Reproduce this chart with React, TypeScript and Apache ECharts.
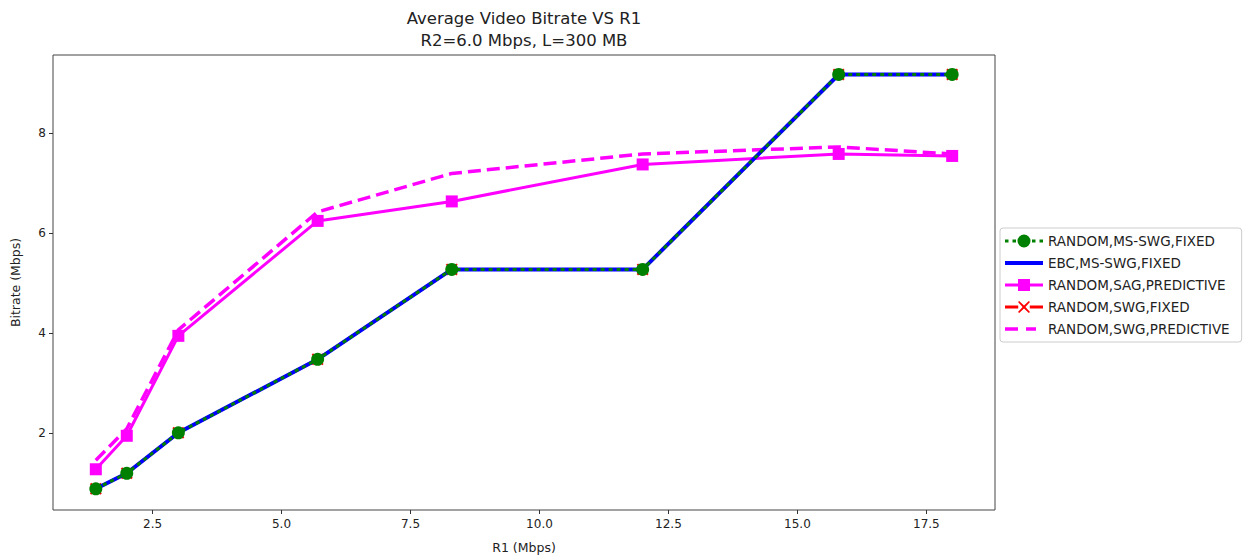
import React, { useEffect, useRef } from "react";
import * as echarts from "echarts";

// R1 link rates (Mbps) shared by every configuration
const r1Values = [1.4, 2.0, 3.0, 5.7, 8.3, 12.0, 15.8, 18.0];

// Average video bitrate (Mbps) per configuration
const randomMsSwgFixed = [0.88, 1.19, 2.0, 3.47, 5.27, 5.27, 9.17, 9.17];
const ebcMsSwgFixed = [0.88, 1.19, 2.0, 3.47, 5.27, 5.27, 9.17, 9.17];
const randomSagPredictive = [1.27, 1.94, 3.94, 6.24, 6.63, 7.37, 7.58, 7.54];
const randomSwgFixed = [0.88, 1.19, 2.0, 3.47, 5.27, 5.27, 9.17, 9.17];
const randomSwgPredictive = [1.45, 2.08, 4.06, 6.42, 7.19, 7.58, 7.72, 7.58];

const xTicks = [2.5, 5.0, 7.5, 10.0, 12.5, 15.0, 17.5];
const yTicks = [2, 4, 6, 8];

const titleLines = ["Average Video Bitrate VS R1", "R2=6.0 Mbps, L=300 MB"];

const FONT = "DejaVu Sans";
const CROSS =
  "path://M0,1.2L1.2,0L5,3.8L8.8,0L10,1.2L6.2,5L10,8.8L8.8,10L5,6.2L1.2,10L0,8.8L3.8,5Z";

// Legend glyphs in a 38x14 box; the zero-length corner moves keep the box size fixed
const BOX = "M0,0L0,0ZM38,14L38,14Z";
const rect = (x0: number, x1: number, y0: number, y1: number) =>
  `M${x0},${y0}L${x1},${y0}L${x1},${y1}L${x0},${y1}Z`;
const ICON_GREEN =
  "path://" +
  BOX +
  rect(0, 3.5, 5.5, 8.5) +
  rect(7.5, 11, 5.5, 8.5) +
  rect(27, 30.5, 5.5, 8.5) +
  rect(34.5, 38, 5.5, 8.5) +
  "M12.5,7A6.5,6.5 0 1 1 25.5,7A6.5,6.5 0 1 1 12.5,7Z";
const ICON_BLUE = "path://" + BOX + rect(0, 38, 5, 9);
const ICON_SQUARE =
  "path://" + BOX + rect(0, 13, 5.5, 8.5) + rect(13, 25, 1, 13) + rect(25, 38, 5.5, 8.5);
const ICON_CROSS =
  "path://" +
  BOX +
  rect(0, 13.2, 5.5, 8.5) +
  rect(24.8, 38, 5.5, 8.5) +
  "M13,2L14.2,1L19,5.6L23.8,1L25,2L20.4,7L25,12L23.8,13L19,8.4L14.2,13L13,12L17.6,7Z";
const ICON_DASH = "path://" + BOX + rect(0, 13, 5.2, 8.8) + rect(21, 31, 5.2, 8.8);

const pairs = (ys: number[]) => r1Values.map((x, i) => [x, ys[i]]);

export default function App() {
  const ref = useRef<HTMLDivElement>(null);

  useEffect(() => {
    if (!ref.current) return;
    const chart = echarts.init(ref.current, undefined, { renderer: "svg" });

    const gridLeft = 53;
    const gridRight = 248;
    const plotCenter = gridLeft + (1243 - gridLeft - gridRight) / 2;

    chart.setOption({
      animation: false,
      backgroundColor: "#fff",
      textStyle: { fontFamily: FONT },
      graphic: titleLines.map((t, i) => ({
        type: "text",
        x: plotCenter,
        y: 18 + i * 22,
        style: {
          text: t,
          fill: "#222",
          font: `16.5px "${FONT}"`,
          textAlign: "center",
          textVerticalAlign: "middle",
        },
      })),
      grid: {
        left: gridLeft,
        right: gridRight,
        top: 55,
        bottom: 44,
        show: true,
        borderColor: "#444",
        borderWidth: 1,
        backgroundColor: "transparent",
      },
      legend: {
        orient: "vertical",
        left: 1000,
        top: 228,
        itemWidth: 38,
        itemHeight: 14,
        itemGap: 8,
        padding: [6, 12, 6, 5],
        borderColor: "#ccc",
        borderWidth: 1,
        borderRadius: 3,
        textStyle: { fontFamily: FONT, fontSize: 13.5, color: "#222" },
        data: [
          { name: "RANDOM,MS-SWG,FIXED", icon: ICON_GREEN },
          { name: "EBC,MS-SWG,FIXED", icon: ICON_BLUE },
          { name: "RANDOM,SAG,PREDICTIVE", icon: ICON_SQUARE },
          { name: "RANDOM,SWG,FIXED", icon: ICON_CROSS },
          { name: "RANDOM,SWG,PREDICTIVE", icon: ICON_DASH },
        ],
      },
      xAxis: {
        type: "value",
        min: 0.57,
        max: 18.83,
        name: "R1 (Mbps)",
        nameLocation: "middle",
        nameGap: 31,
        nameTextStyle: { fontFamily: FONT, fontSize: 12.5, color: "#222" },
        axisLine: { show: false },
        splitLine: { show: false },
        axisTick: {
          show: true,
          length: 4,
          customValues: xTicks,
          lineStyle: { color: "#333" },
        },
        axisLabel: {
          customValues: xTicks,
          margin: 8,
          fontFamily: FONT,
          fontSize: 12,
          color: "#222",
          formatter: (v: number) => v.toFixed(1),
        },
      },
      yAxis: {
        type: "value",
        min: 0.455,
        max: 9.56,
        name: "Bitrate (Mbps)",
        nameLocation: "middle",
        nameGap: 31,
        nameTextStyle: { fontFamily: FONT, fontSize: 12.5, color: "#222" },
        axisLine: { show: false },
        splitLine: { show: false },
        axisTick: {
          show: true,
          length: 4,
          customValues: yTicks,
          lineStyle: { color: "#333" },
        },
        axisLabel: {
          customValues: yTicks,
          margin: 7,
          fontFamily: FONT,
          fontSize: 12,
          color: "#222",
          formatter: (v: number) => String(Math.round(v)),
        },
      },
      series: [
        {
          name: "RANDOM,MS-SWG,FIXED",
          type: "line",
          z: 5,
          data: pairs(randomMsSwgFixed),
          symbol: "circle",
          symbolSize: 13,
          itemStyle: { color: "#008000" },
          lineStyle: { color: "#008000", width: 3, type: [4, 4] },
        },
        {
          name: "EBC,MS-SWG,FIXED",
          type: "line",
          z: 4,
          data: pairs(ebcMsSwgFixed),
          symbol: "none",
          showSymbol: false,
          itemStyle: { color: "#0000ff" },
          lineStyle: { color: "#0000ff", width: 4 },
        },
        {
          name: "RANDOM,SAG,PREDICTIVE",
          type: "line",
          z: 3,
          data: pairs(randomSagPredictive),
          symbol: "rect",
          symbolSize: 12,
          itemStyle: { color: "#ff00ff" },
          lineStyle: { color: "#ff00ff", width: 3 },
        },
        {
          name: "RANDOM,SWG,FIXED",
          type: "line",
          z: 2,
          data: pairs(randomSwgFixed),
          symbol: CROSS,
          symbolSize: 12,
          itemStyle: { color: "#ff0000" },
          lineStyle: { color: "#ff0000", width: 3 },
        },
        {
          name: "RANDOM,SWG,PREDICTIVE",
          type: "line",
          z: 3,
          data: pairs(randomSwgPredictive),
          symbol: "none",
          showSymbol: false,
          itemStyle: { color: "#ff00ff" },
          lineStyle: { color: "#ff00ff", width: 3.5, type: [13, 6] },
        },
      ],
    });

    return () => chart.dispose();
  }, []);

  return (
    <div
      ref={ref}
      style={{ position: "fixed", left: 0, top: 0, width: 1243, height: 559 }}
    />
  );
}
